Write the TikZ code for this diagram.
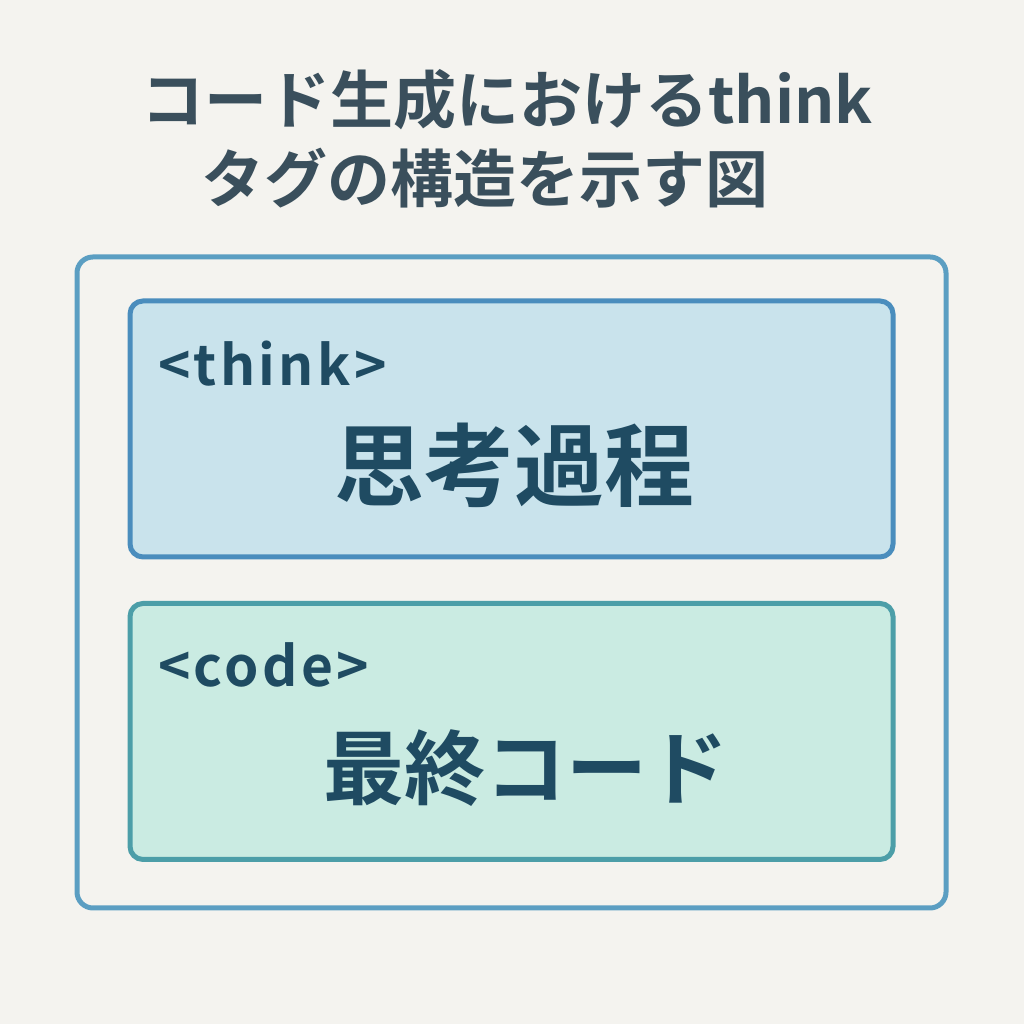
\documentclass[tikz,border=0pt]{standalone}
\usepackage{fontspec}
\newfontfamily\jpfont{Noto Sans CJK JP}[BoldFont={Noto Sans CJK JP Bold}]
\newfontfamily\tagfont{Noto Sans CJK JP Bold}[LetterSpace=6]
\definecolor{bgpaper}{HTML}{F4F3EF}
\definecolor{titleink}{HTML}{3A4F5C}
\definecolor{boxink}{HTML}{1F4B62}
\definecolor{outerline}{HTML}{5B9EC2}
\definecolor{thinkline}{HTML}{4A8DBD}
\definecolor{thinkfill}{HTML}{C9E3EC}
\definecolor{codeline}{HTML}{4C9EA8}
\definecolor{codefill}{HTML}{CAEBE2}
\tikzset{
  titletext/.style={font=\jpfont\bfseries\fontsize{63}{65}\selectfont, text=titleink, inner sep=0pt},
  tagtext/.style={font=\tagfont\fontsize{55}{57}\selectfont, text=boxink, anchor=west, inner sep=0pt},
  bigtext/.style={font=\jpfont\bfseries\fontsize{90}{92}\selectfont, text=boxink, inner sep=0pt},
  panel/.style={rounded corners=13pt, line width=5pt, minimum width=763pt, minimum height=256pt, inner sep=0pt},
}
\begin{document}
\begin{tikzpicture}[x=1pt, y=1pt]
  \fill[bgpaper] (0,0) rectangle (1024,1024); % 背景
  \node[titletext, anchor=west] (title1) at (141,924) {コード生成におけるthink};
  \node[titletext, anchor=west] (title2) at (201,846) {タグの構造を示す図};
  \node[draw=outerline, fill=bgpaper, rounded corners=16pt, line width=5pt, minimum width=869pt, minimum height=651pt] (outer) at (511.5,441.5) {};
  \node[panel, draw=thinkline, fill=thinkfill] (thinkbox) at (511.5,595) {};
  \node[panel, draw=codeline, fill=codefill] (codebox) at (511.5,292.5) {};
  \node[tagtext] (thinktag) at (158,660) {<think>};
  \node[bigtext] (thinkbody) at (514,559) {思考過程};
  \node[bigtext, font=\jpfont\bfseries\fontsize{81}{83}\selectfont] (codebody) at (526,256) {最終コード};
  \node[tagtext] (codetag) at (158,359) {<code>};
\end{tikzpicture}
\end{document}
